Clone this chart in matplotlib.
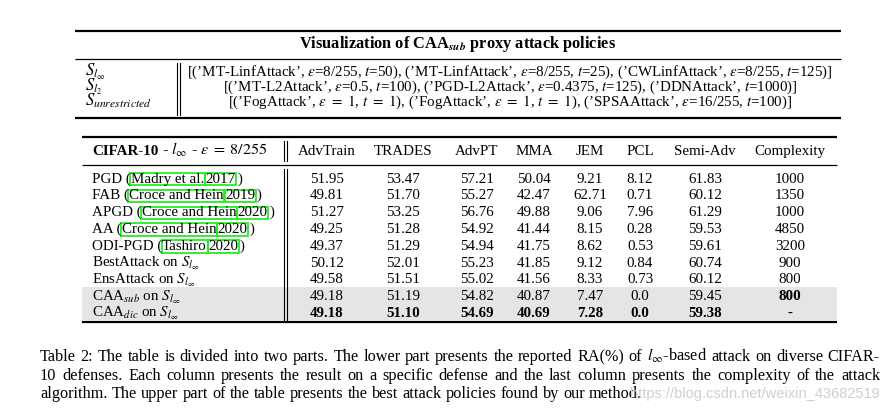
import matplotlib
matplotlib.use("Agg")
import matplotlib.pyplot as plt
from matplotlib.patches import Rectangle

plt.rcParams['font.family'] = ['Liberation Serif', 'DejaVu Serif']
plt.rcParams['mathtext.fontset'] = 'stix'

# --- data ---------------------------------------------------------------
policy_title = r"Visualization of CAA$_{\mathbfit{sub}}$ proxy attack policies"
policy_names = [r'$S_{l_\infty}$', r'$S_{l_2}$', r'$S_{unrestricted}$']
policies = [
    r"[(’MT-LinfAttack’, $\epsilon$=8/255, $t$=50), (’MT-LinfAttack’, $\epsilon$=8/255, $t$=25), (’CWLinfAttack’, $\epsilon$=8/255, $t$=125)]",
    r"[(’MT-L2Attack’, $\epsilon$=0.5, $t$=100), (’PGD-L2Attack’, $\epsilon$=0.4375, $t$=125), (’DDNAttack’, $t$=1000)]",
    r"[(’FogAttack’, $\epsilon\ =\ 1$, $t\ =\ 1$), (’FogAttack’, $\epsilon\ =\ 1$, $t\ =\ 1$), (’SPSAAttack’, $\epsilon$=16/255, $t$=100)]",
]

attacks = ['PGD', 'FAB', 'APGD', 'AA', 'ODI-PGD', 'BestAttack', 'EnsAttack',
           r'CAA$_{sub}$', r'CAA$_{dic}$']
cite_authors = ['Madry et al.', 'Croce and Hein', 'Croce and Hein',
                'Croce and Hein', 'Tashiro', None, None, None, None]
cite_years = ['2017', '2019', '2020', '2020', '2020', None, None, None, None]

defenses = ['AdvTrain', 'TRADES', 'AdvPT', 'MMA', 'JEM', 'PCL', 'Semi-Adv', 'Complexity']
adv_train = ['51.95', '49.81', '51.27', '49.25', '49.37', '50.12', '49.58', '49.18', '49.18']
trades = ['53.47', '51.70', '53.25', '51.28', '51.29', '52.01', '51.51', '51.19', '51.10']
adv_pt = ['57.21', '55.27', '56.76', '54.92', '54.94', '55.23', '55.02', '54.82', '54.69']
mma = ['50.04', '42.47', '49.88', '41.44', '41.75', '41.85', '41.56', '40.87', '40.69']
jem = ['9.21', '62.71', '9.06', '8.15', '8.62', '9.12', '8.33', '7.47', '7.28']
pcl = ['8.12', '0.71', '7.96', '0.28', '0.53', '0.84', '0.73', '0.0', '0.0']
semi_adv = ['61.83', '60.12', '61.29', '59.53', '59.61', '60.74', '60.12', '59.45', '59.38']
complexity = ['1000', '1350', '1000', '4850', '3200', '900', '800', '800', '-']
columns = [adv_train, trades, adv_pt, mma, jem, pcl, semi_adv, complexity]
# bold cell per column (row index)
bold_rows = [[8], [8], [8], [8], [8], [8], [8], [7]]

caption = [
    r"Table 2: The table is divided into two parts. The lower part presents the reported RA(%) of $l_{\infty}$-based attack on diverse CIFAR-",
    "10 defenses. Each column presents the result on a specific defense and the last column presents the complexity of the attack",
    "algorithm. The upper part of the table presents the best attack policies found by our method.",
]
watermark = "https://blog.csdn.net/weixin_43682519"

# --- figure -------------------------------------------------------------
W, H = 894, 415
fig = plt.figure(figsize=(W / 100, H / 100), dpi=100)
ax = fig.add_axes([0, 0, 1, 1])
ax.set_xlim(0, W)
ax.set_ylim(H, 0)
ax.axis('off')
renderer = fig.canvas.get_renderer()

FS = 10.8     # lower table
FS_UP = 10.8  # upper table
GREEN = '#22ee22'


def put(x, y, s, **kw):
    t = ax.text(x, y, s, va='baseline', **kw)
    return t, t.get_window_extent(renderer)


def put_pieces(x, y, pieces):
    """pieces: (text, boxed) placed one after another"""
    for s, boxed in pieces:
        t, bb = put(x, y, s, fontsize=FS)
        if boxed:
            ax.add_patch(Rectangle((bb.x0 - 0.5, H - bb.y1 + 0.5), bb.width + 1,
                                   bb.height - 0.5, fill=False, ec=GREEN, lw=1.3))
        x += bb.width + (1.5 if boxed else 0)
    return x


def hline(y, x0, x1, lw):
    ax.plot([x0, x1], [y, y], color='black', lw=lw, solid_capstyle='butt')


# upper table
up_x0, up_x1 = 75, 841
hline(31, up_x0, up_x1, 1.6)
ax.text((up_x0 + up_x1) / 2, 44, policy_title, ha='center', va='center',
        fontsize=11.8, fontweight='bold')
hline(59, up_x0, up_x1, 0.9)
up_rows = [72, 87, 102]
for name, pol, y in zip(policy_names, policies, up_rows):
    put(85, y + 4, name, fontsize=12)
    put(510, y + 4, pol, fontsize=FS_UP, ha='center')
for vx in (176.5, 179.5):
    ax.plot([vx, vx], [63, 115], color='black', lw=0.8)
hline(118, up_x0, up_x1, 1.6)

# lower table
lo_x0, lo_x1 = 82, 837
row_y0, row_step = 178, 16.8
n = len(attacks)
ax.add_patch(Rectangle((lo_x0, 287), lo_x1 - lo_x0, 33, color='#e5e5e5', lw=0))
hline(137, lo_x0, lo_x1, 1.6)
hline(165, lo_x0, lo_x1, 0.9)
hline(322, lo_x0, lo_x1, 1.6)
for vx in (283.5, 286.5):
    ax.plot([vx, vx], [141, 161], color='black', lw=0.8)
    ax.plot([vx, vx], [169, 320], color='black', lw=0.8)

hx = 92
t, bb = put(hx, 155, 'CIFAR-10', fontsize=FS, fontweight='bold')
put(hx + bb.width, 155, r' - $l_{\infty}$ - $\epsilon\;=\;8/255$', fontsize=FS + 0.8)

col_x = [327, 403, 477, 534, 590, 640, 705, 790]
for cx, name in zip(col_x, defenses):
    put(cx, 155, name, fontsize=FS, ha='center')

for i in range(n):
    y = row_y0 + i * row_step + 4.5
    if cite_authors[i] is not None:
        put_pieces(92, y, [(attacks[i] + ' (', False), (cite_authors[i], True),
                           (cite_years[i], True), (')', False)])
    else:
        put(92, y, attacks[i] + r' on $S_{l_\infty}$', fontsize=FS)
    for cx, col, br in zip(col_x, columns, bold_rows):
        put(cx, y, col[i], fontsize=FS, ha='center',
            fontweight='bold' if i in br else 'normal')

# caption, justified
cap_x0, cap_x1 = 40, 880
cap_fs = 11.7
t1, b1 = put(0, 200, 'x x', fontsize=cap_fs)
t2, b2 = put(0, 200, 'xx', fontsize=cap_fs)
space = b1.width - b2.width
t1.remove()
t2.remove()
for k, (line, y) in enumerate(zip(caption, [361, 380, 398])):
    words = line.split(' ')
    texts = [ax.text(0, y, w, va='baseline', fontsize=cap_fs) for w in words]
    widths = [t.get_window_extent(renderer).width for t in texts]
    if k < len(caption) - 1:
        gap = (cap_x1 - cap_x0 - sum(widths)) / (len(words) - 1)
    else:
        gap = space
    x = cap_x0
    for t, w in zip(texts, widths):
        t.set_x(x)
        x += w + gap

ax.text(880, 398, watermark, ha='right', va='baseline', fontsize=10.5,
        color='#cfcfcf', family=['Liberation Sans', 'DejaVu Sans'])

fig.savefig('out.png', dpi=100)
